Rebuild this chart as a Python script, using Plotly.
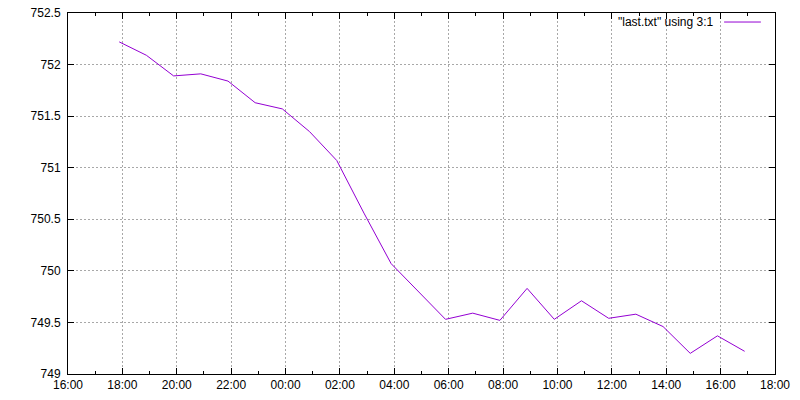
import plotly.graph_objects as go

# readings taken a few minutes before each hour
times = [
    "2024-01-01 17:53", "2024-01-01 18:53", "2024-01-01 19:53", "2024-01-01 20:53",
    "2024-01-01 21:53", "2024-01-01 22:53", "2024-01-01 23:53", "2024-01-02 00:53",
    "2024-01-02 01:53", "2024-01-02 02:53", "2024-01-02 03:53", "2024-01-02 04:53",
    "2024-01-02 05:53", "2024-01-02 06:53", "2024-01-02 07:53", "2024-01-02 08:53",
    "2024-01-02 09:53", "2024-01-02 10:53", "2024-01-02 11:53", "2024-01-02 12:53",
    "2024-01-02 13:53", "2024-01-02 14:53", "2024-01-02 15:53", "2024-01-02 16:53",
]
pressure = [
    752.22, 752.09, 751.89, 751.91, 751.84, 751.63, 751.57, 751.35,
    751.07, 750.56, 750.07, 749.80, 749.53, 749.59, 749.52, 749.83,
    749.53, 749.71, 749.54, 749.58, 749.46, 749.20, 749.37, 749.22,
]
legend_label = '"last.txt" using 3:1'
line_color = "#9400d3"

fig = go.Figure(go.Scatter(
    x=times, y=pressure, mode="lines",
    line=dict(color=line_color, width=1),
    showlegend=False,
))

axis_style = dict(
    showline=True, linecolor="black", linewidth=1, mirror="allticks",
    ticks="inside", ticklen=6, tickcolor="black",
    showgrid=True, gridcolor="#a8a8a8", griddash="2px,2px", gridwidth=1,
    zeroline=False, automargin=False, ticklabeloverflow="allow",
    tickfont=dict(family="Liberation Sans", size=12, color="black"),
)

fig.update_xaxes(
    **axis_style,
    type="date",
    range=["2024-01-01 16:00", "2024-01-02 18:00"],
    dtick=2 * 3600000, tick0="2024-01-01 16:00",
    tickformat="%H:%M",
    minor=dict(dtick=3600000, ticks="inside", ticklen=3, tickcolor="black", showgrid=False),
)
fig.update_yaxes(
    **axis_style,
    range=[749, 752.5],
    dtick=0.5,
    ticklabelstandoff=4,
)

# gnuplot style key: label text followed by line sample
fig.add_annotation(
    x=0.917, y=0.975, xref="paper", yref="paper",
    xanchor="right", yanchor="middle", showarrow=False,
    text=legend_label,
    font=dict(family="Liberation Sans", size=12, color="black"),
)
fig.add_shape(
    type="line", xref="paper", yref="paper",
    x0=0.928, x1=0.98, y0=0.975, y1=0.975,
    line=dict(color=line_color, width=1),
)

# page body adds 8px offset, so margins are shifted to compensate
fig.update_layout(
    width=800, height=400,
    margin=dict(l=60, r=33, t=5, b=34),
    plot_bgcolor="white", paper_bgcolor="white",
)

fig.write_html("out.html")
